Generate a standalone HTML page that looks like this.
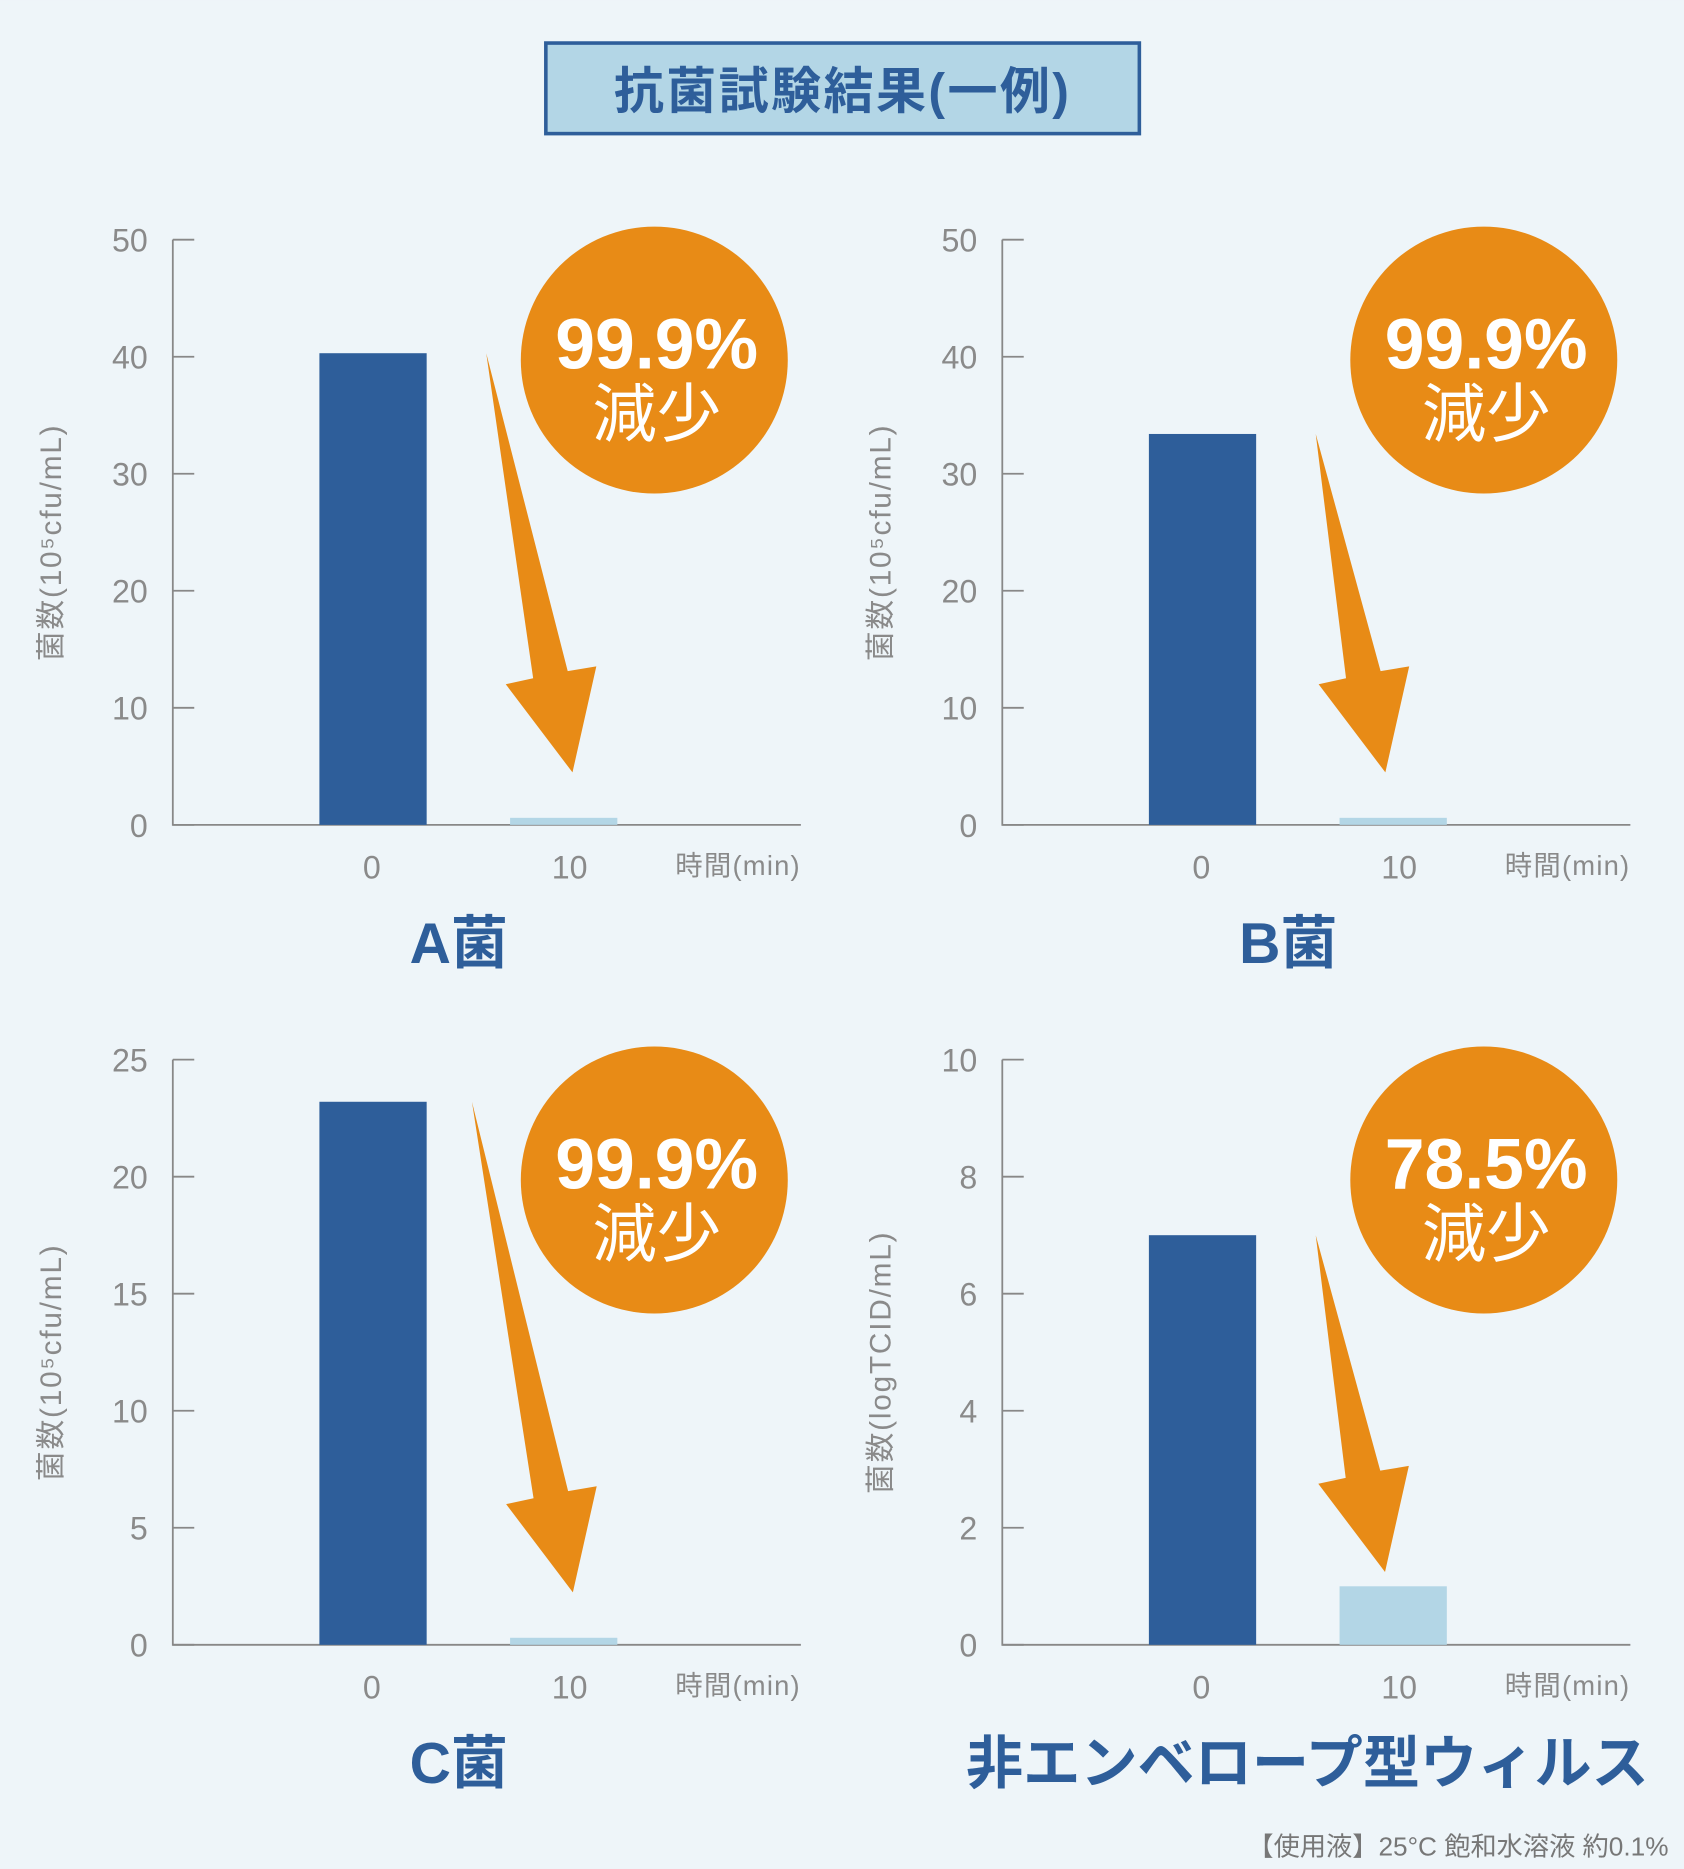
<!DOCTYPE html>
<html><head><meta charset="utf-8"><style>
html,body{margin:0;padding:0;background:#eef5f9;}
svg{display:block;}
text{font-family:"Liberation Sans","Noto Sans CJK JP",sans-serif;}
</style></head><body>
<svg id="root" width="1684" height="1869" viewBox="0 0 1413 1568" xmlns="http://www.w3.org/2000/svg">
<rect x="0" y="0" width="1413" height="1568" fill="#eef5f9"/>
<g>
<rect x="458" y="36" width="498" height="76" fill="#b3d6e6" stroke="#2e5e9a" stroke-width="3"/>
<text x="707" y="91" text-anchor="middle" font-size="42" font-weight="bold" letter-spacing="2" fill="#2e5e9a">抗菌試験結果(一例)</text>
</g>
<g id="charts"></g>
<text x="1400" y="1557" text-anchor="end" font-size="22" fill="#777">【使用液】25°C 飽和水溶液 約0.1%</text>
</svg>
<script>
const categories = ["0", "10"];
const valuesA = [40.3, 0.6];
const valuesB = [33.4, 0.6];
const valuesC = [23.2, 0.3];
const valuesD = [7.0, 1.0];
const ticksA = [0, 10, 20, 30, 40, 50];
const ticksB = [0, 10, 20, 30, 40, 50];
const ticksC = [0, 5, 10, 15, 20, 25];
const ticksD = [0, 2, 4, 6, 8, 10];
const reductions = ["99.9%", "99.9%", "99.9%", "78.5%"];
const names = ["A菌", "B菌", "C菌", "非エンベロープ型ウィルス"];
const yTitles = ["菌数(10⁵cfu/mL)", "菌数(10⁵cfu/mL)", "菌数(10⁵cfu/mL)", "菌数(logTCID/mL)"];

const NS = "http://www.w3.org/2000/svg";
const root = document.getElementById("charts");
function mk(tag, attrs, parent, txt) {
  const e = document.createElementNS(NS, tag);
  for (const k in attrs) e.setAttribute(k, attrs[k]);
  if (txt !== undefined) e.textContent = txt;
  parent.appendChild(e);
  return e;
}
const panels = [
  {ox: 0, oy: 0, vals: valuesA, ticks: ticksA, id: "a"},
  {ox: 696, oy: 0, vals: valuesB, ticks: ticksB, id: "b"},
  {ox: 0, oy: 688, vals: valuesC, ticks: ticksC, id: "c"},
  {ox: 696, oy: 688, vals: valuesD, ticks: ticksD, id: "d"}
];
panels.forEach((p, i) => {
  const g = mk("g", {transform: `translate(${p.ox},${p.oy})`}, root);
  
  
  const x0 = 145, x1 = 672, yTop = 201, yBot = 692;
  const max = p.ticks[p.ticks.length - 1];
  const yS = v => yBot - (v / max) * (yBot - yTop);
  const xS = k => [313, 473][k];
  const ax = mk("path", {d: `M${x0} ${yTop}V${yBot}H${x1}`, fill: "none", stroke: "#888", "stroke-width": 1.5}, g);
  
  
  p.ticks.forEach(t => {
    const y = yS(t);
    mk("line", {x1: x0, x2: x0 + 18, y1: y, y2: y, stroke: "#888", "stroke-width": 1.5}, g);
    const tl = mk("text", {x: 124, y: y + 10, "text-anchor": "end", "font-size": 27, fill: "#8a8a8a"}, g, String(t));
    
    
  });
  const yt = mk("text", {transform: `translate(51,455) rotate(-90)`, "text-anchor": "middle", "font-size": 25, "letter-spacing": 1.5, fill: "#8a8a8a"}, g, yTitles[i]);
  
  
  p.vals.forEach((v, k) => {
    const cx = xS(k);
    const b = mk("rect", {x: cx - 45, y: yS(v), width: 90, height: yBot - yS(v), fill: k === 0 ? "#2e5e9a" : "#b3d6e6"}, g);
    
    
    const xl = mk("text", {x: cx + (k === 1 ? 5 : -1), y: 737, "text-anchor": "middle", "font-size": 27, fill: "#8a8a8a"}, g, categories[k]);
    
    
  });
  const xt = mk("text", {x: 672, y: 734, "text-anchor": "end", "font-size": 23, "letter-spacing": 1, fill: "#8a8a8a"}, g, "時間(min)");
  
  
  const tailY = yS(p.vals[0]);
  const tipY = Math.min(yS(p.vals[1]) - 12, 648);
  const tailX = i === 2 ? 396 : 408;
  const dx = 72 * (tipY - tailY) / 350;
  const tipX = tailX + dx;
  const pts = [[tailX, tailY], [tipX - 33, tipY - 79], [tipX - 56, tipY - 74], [tipX, tipY], [tipX + 20, tipY - 89], [tipX - 4, tipY - 85]];
  const ar = mk("polygon", {points: pts.map(q => q.join(",")).join(" "), fill: "#e88b16"}, g);
  
  
  const bd = mk("g", {}, g);
  
  
  mk("circle", {cx: 549, cy: 302, r: 112, fill: "#e88b16"}, bd);
  mk("text", {x: 551, y: 309, "text-anchor": "middle", "font-size": 60, "font-weight": "bold", fill: "#fff"}, bd, reductions[i]);
  mk("text", {x: 551, y: 366, "text-anchor": "middle", "font-size": 54, fill: "#fff"}, bd, "減少");
  const nm = mk("text", {x: i === 3 ? 401 : 385, y: 808, "text-anchor": "middle", "font-size": 48, "font-weight": "bold", fill: "#2e5e9a"}, g, names[i]);
  
  
});
</script>
</body></html>
